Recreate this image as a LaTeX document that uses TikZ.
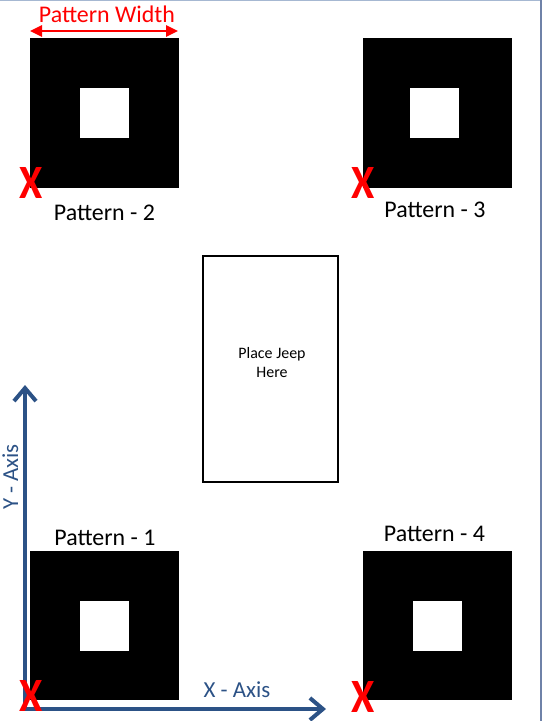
\documentclass[tikz,border=0pt]{standalone}
\usepackage{fontspec}
\setmainfont{Carlito}
\usetikzlibrary{arrows.meta}
\definecolor{axisblue}{HTML}{2C5286}
\definecolor{xred}{HTML}{FF0000}
\definecolor{frametop}{HTML}{A6B8D2}
\definecolor{frameright}{HTML}{6F82A8}
\begin{document}
\begin{tikzpicture}[x=1bp,y=-1bp,
  pat/.style={fill=black,draw=none,inner sep=0,minimum width=149bp,minimum height=149bp},
  hole/.style={fill=white,draw=none,inner sep=0,minimum width=49bp,minimum height=50bp},
  plabel/.style={font=\fontsize{24}{28}\selectfont,anchor=base,inner sep=0},
  xmark/.style={text=xred,font=\fontsize{48}{48}\selectfont\bfseries,inner sep=0,xscale=0.88},
  axislabel/.style={text=axisblue,font=\fontsize{23}{27}\selectfont,anchor=base,inner sep=0},
  axisline/.style={draw=axisblue,line width=4bp,line join=miter,
    {Straight Barb[length=13bp,width=22bp,line width=4bp]}-{Straight Barb[length=13bp,width=22bp,line width=4bp]}},
  widtharrow/.style={draw=xred,line width=2.5bp,{Triangle[length=12bp,width=11bp]}-{Triangle[length=12bp,width=11bp]}},
  jeepbox/.style={draw=black,line width=2.5bp,inner sep=0,minimum width=135bp,minimum height=226bp}
]
\useasboundingbox (0,0) rectangle (542,721);
% frame edges
\draw[frametop,line width=1.2bp] (0,0.6) -- (542,0.6);
\draw[frameright,line width=2bp] (541,0) -- (541,721);

% patterns
\node[pat] (p2) at (104.5,113) {};
\node[hole] (h2) at (104.5,113) {};
\node[pat] (p3) at (437,113) {};
\node[hole] (h3) at (434.5,113) {};
\node[pat] (p1) at (104.5,625.5) {};
\node[hole] (h1) at (104.5,625.5) {};
\node[pat] (p4) at (437,625.5) {};
\node[hole] (h4) at (437.5,625.5) {};

% labels
\node[plabel] (l2) at (104.5,220) {Pattern - 2};
\node[plabel] (l3) at (435,217) {Pattern - 3};
\node[plabel] (l1) at (105,545) {Pattern - 1};
\node[plabel] (l4) at (434.5,541) {Pattern - 4};

% pattern width
\node[plabel,text=xred] (pw) at (107,23) {Pattern Width};
\coordinate (pwl) at (30,31);
\coordinate (pwr) at (178,31);
\draw[widtharrow] (pwl) -- (pwr);

% jeep box
\node[jeepbox] (jeep) at (270.5,369) {};
\node[font=\fontsize{16}{19.5}\selectfont,align=center,anchor=north,inner sep=0] (jeeptext) at (272,347) {Place Jeep\\Here};

% axes
\coordinate (o) at (25,709);
\coordinate (ytip) at (25,385);
\coordinate (xtip) at (326,709);
\draw[axisline] (ytip) -- (o) -- (xtip);
\node[axislabel] (xl) at (237,697) {X - Axis};
\node[axislabel,rotate=90] (yl) at (18,477) {Y - Axis};

% red X marks
\node[xmark] (x2) at (31.5,182.5) {X};
\node[xmark] (x3) at (363,182.5) {X};
\node[xmark] (x1) at (31.5,696) {X};
\node[xmark] (x4) at (363.5,697) {X};
\end{tikzpicture}
\end{document}
